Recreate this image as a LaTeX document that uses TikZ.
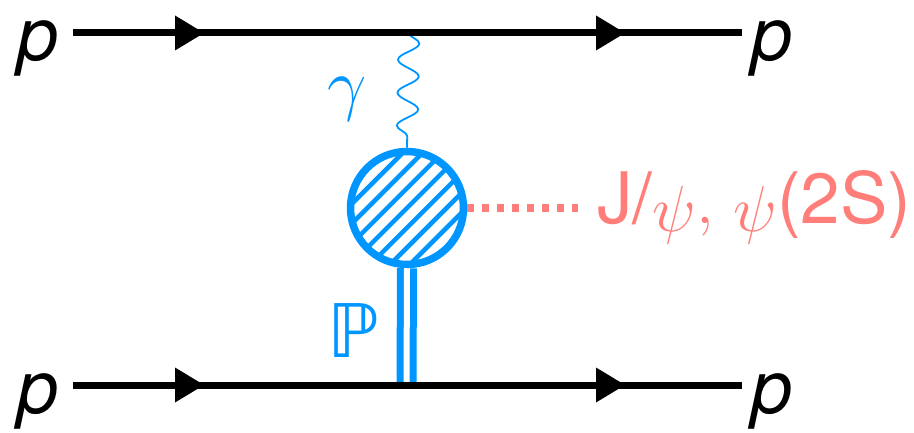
\RequirePackage{fix-cm}
\documentclass[tikz,border=0pt]{standalone}
\usepackage{fontspec}
\usepackage{amssymb}
\setmainfont{TeX Gyre Heros}
\newfontfamily\djv{DejaVu Sans}
\usetikzlibrary{decorations.pathmorphing,decorations.markings}
\definecolor{aqua}{HTML}{0096FF}
\definecolor{salmon}{HTML}{FF7E79}
\newcommand\mypsi{\raisebox{-8pt}{\fontsize{65}{66}\selectfont$\psi$}}
\newcommand\mycomma{{\fontsize{65}{66}\selectfont$,$}}
\begin{document}
\begin{tikzpicture}[x=1pt,y=-1pt,
  fermion/.style={line width=7pt, postaction={decorate, decoration={markings,
     mark=at position 131pt with {\fill (-29,17.5)--(0,0)--(-29,-17.5)--cycle;},
     mark=at position 552pt with {\fill (-29,17.5)--(0,0)--(-29,-17.5)--cycle;}}}},
  plabel/.style={anchor=base, inner sep=0pt, font=\fontsize{74}{74}\selectfont\itshape},
  blobstyle/.style={circle, draw=aqua, line width=7.5pt, minimum size=113pt, inner sep=0pt, fill=white,
     path picture={\foreach \k in {-3,...,3}{
        \draw[aqua, line width=4.5pt] ([shift={(\k*19.8-80,80)}]path picture bounding box.center) -- ++(160,-160);}}},
  photon/.style={aqua, line width=1.8pt, decorate, decoration={snake, segment length=33pt, amplitude=10.5pt}},
  pomeron/.style={aqua, line width=7pt, double=white, double distance=6pt},
  meson/.style={salmon, line width=8pt, dash pattern=on 7pt off 8pt}
]
\useasboundingbox (0,0) rectangle (914,433);
\coordinate (tl) at (73,33);
\coordinate (tr) at (742,33);
\coordinate (bl) at (73,385);
\coordinate (br) at (742,385);
\coordinate (vt) at (409,33);
\coordinate (vb) at (406.5,385);
\coordinate (mend) at (578,208);
\node[blobstyle] (blob) at (407,208) {};
\draw[photon] (vt) -- (blob.north);
\draw[pomeron] (blob.south) -- (vb);
\draw[meson] (blob.east) -- (mend);
\draw[fermion] (tl) -- (tr);
\draw[fermion] (bl) -- (br);
\node[plabel] (p1) at (38,61) {p};
\node[plabel] (p2) at (772,61) {p};
\node[plabel] (p3) at (38,413) {p};
\node[plabel] (p4) at (772,413) {p};
\node[anchor=base, inner sep=0pt, text=aqua, font=\fontsize{70}{70}\selectfont] (gam) at (347,108) {$\gamma$};
\node[anchor=base, inner sep=0pt, text=aqua, font=\djv\fontsize{74}{74}\selectfont] (pom) at (353,357) {ℙ};
\node[anchor=base west, inner sep=0pt, text=salmon, font=\fontsize{71}{72}\selectfont] (jpsi) at (597,224) {J/\mypsi\mycomma{} \mypsi(2S)};
\end{tikzpicture}
\end{document}
